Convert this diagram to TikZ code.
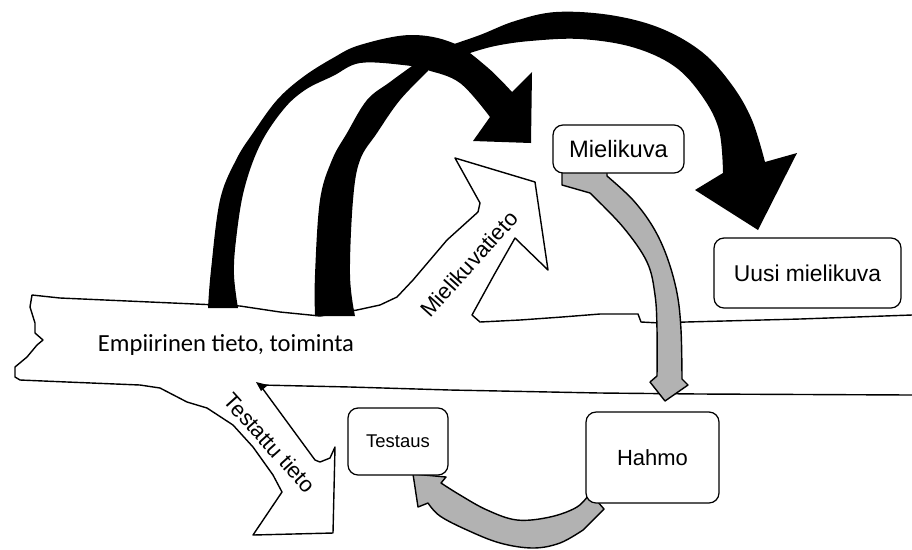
\documentclass[tikz,border=0pt]{standalone}
\usepackage{fontspec}
\setmainfont{Liberation Sans}
\newfontfamily\calfont{Carlito}
\newcommand{\koko}[1]{\fontsize{#1}{#1}\selectfont}

\begin{document}
\begin{tikzpicture}[
    x=0.02cm, y=-0.02cm,
    laatikko/.style = {rectangle, rounded corners=2mm, draw, line width=0.7pt, fill=white, inner sep=0pt},
    viiva/.style = {line width=0.8pt, line join=round},
    musta/.style = {fill=black},
    harmaa/.style = {draw, fill=black!30, line width=0.8pt, line join=round}
    ]
  \useasboundingbox (0,0) rectangle (912,549);

  % nauha: empiirinen tieto
  \draw[viiva] (912,315) -- (800,319) -- (686,322) -- (660,323) -- (641,322) -- (638,314)
    -- (600,314) -- (562,317) -- (520,320) -- (480,322) -- (472,315) -- (494,275) -- (515,238)
    -- (548,270) -- (535,182) -- (455,158) -- (480,203) -- (478,212) -- (447,240) -- (413,280)
    -- (397,297) -- (380,305) -- (357,310) -- (320,316) -- (280,312) -- (240,306) -- (150,302)
    -- (60,298) -- (32,295) -- (30,307) -- (35,323) -- (35,333) -- (43,340) -- (37,345)
    -- (27,357) -- (15,367) -- (15,377) -- (20,380) -- (67,382) -- (140,385) -- (160,388)
    -- (187,402) -- (207,408) -- (233,425) -- (253,447) -- (273,475) -- (282,492) -- (253,535)
    -- (333,533) -- (335,447) -- (330,458) -- (320,462) -- (315,460) -- (260,385) -- (350,387)
    -- (450,390) -- (600,393) -- (700,394) -- (912,395);
  \fill (256,382) -- (268,385) -- (261,391) -- cycle;

  % mustat kaaret
  \fill[musta] plot[smooth, tension=0.6] coordinates {(208,308) (211,270) (220,200) (236,160)
      (253,133) (277,100) (303,77) (333,58) (360,45) (410,35) (453,43) (487,67) (512,92)}
    -- (532,72) -- (531,143) -- (473,141)
    -- plot[smooth, tension=0.6] coordinates {(490,117) (460,83) (427,70) (403,65) (360,63)
      (333,76) (305,90) (283,110) (260,145) (244,190) (236,240) (234,275) (238,308)} -- cycle;
  \fill[musta] plot[smooth, tension=0.6] coordinates {(315,316) (315,275) (320,200) (332,160)
      (347,133) (367,100) (390,82) (412,66)}
    -- (425,60)
    -- plot[smooth, tension=0.6] coordinates {(428,71) (400,100) (377,133) (360,160) (353,200)
      (350,275) (355,316)} -- cycle;
  \fill[musta] plot[smooth, tension=0.6] coordinates {(448,46) (480,35) (515,21) (556,12)
      (610,15) (660,28) (702,52) (732,85) (752,120) (765,162)}
    -- (797,153) -- (758,230) -- (695,190)
    -- plot[smooth, tension=0.6] coordinates {(723,173) (719,130) (702,96) (674,66) (632,47)
      (580,39) (530,41) (495,46) (470,53)} -- cycle;

  % harmaat nuolet
  \draw[harmaa] (607,170) -- (562,170) -- (562,185)
    -- plot[smooth, tension=0.6] coordinates {(590,193) (623,227) (647,262) (655,295) (657,330) (657,376)}
    -- (650,382) -- (665,401) -- (688,385)
    -- plot[smooth, tension=0.6] coordinates {(682,379) (681,330) (677,293) (667,257) (653,227) (633,200) (607,176)}
    -- cycle;
  \draw[harmaa] (590,493) -- (604,509)
    -- plot[smooth, tension=0.6] coordinates {(583,530) (560,543) (533,548) (500,543) (467,530) (440,516) (428,503)}
    -- (418,507) -- (413,474) -- (446,477)
    -- plot[smooth, tension=0.6] coordinates {(441,483) (460,495) (487,510) (517,520) (550,517) (577,507) (590,493)}
    -- cycle;

  \node[laatikko, minimum width=2.62cm, minimum height=0.96cm, font=\koko{13.5}] (mieli) at (618.5,149) {Mielikuva};
  \node[laatikko, minimum width=3.74cm, minimum height=1.4cm, font=\koko{13}] (uusi) at (807.5,273) {Uusi mielikuva};
  \node[laatikko, minimum width=2.66cm, minimum height=1.82cm, font=\koko{12.5}] (hahmo) at (652.5,457.5) {Hahmo};
  \node[laatikko, minimum width=2cm, minimum height=1.34cm, font=\koko{10.5}] (testaus) at (398,441.5) {Testaus};

  \node[font={\calfont\koko{14}}] (empiirinen) at (226,345) {Empiirinen tieto, toiminta};
  \node[rotate=48, font=\koko{12.5}] (mielitieto) at (469,264) {Mielikuvatieto};
  \node[rotate=-48, font=\koko{12.5}] (testattu) at (270,443) {Testattu tieto};

\end{tikzpicture}
\end{document}
